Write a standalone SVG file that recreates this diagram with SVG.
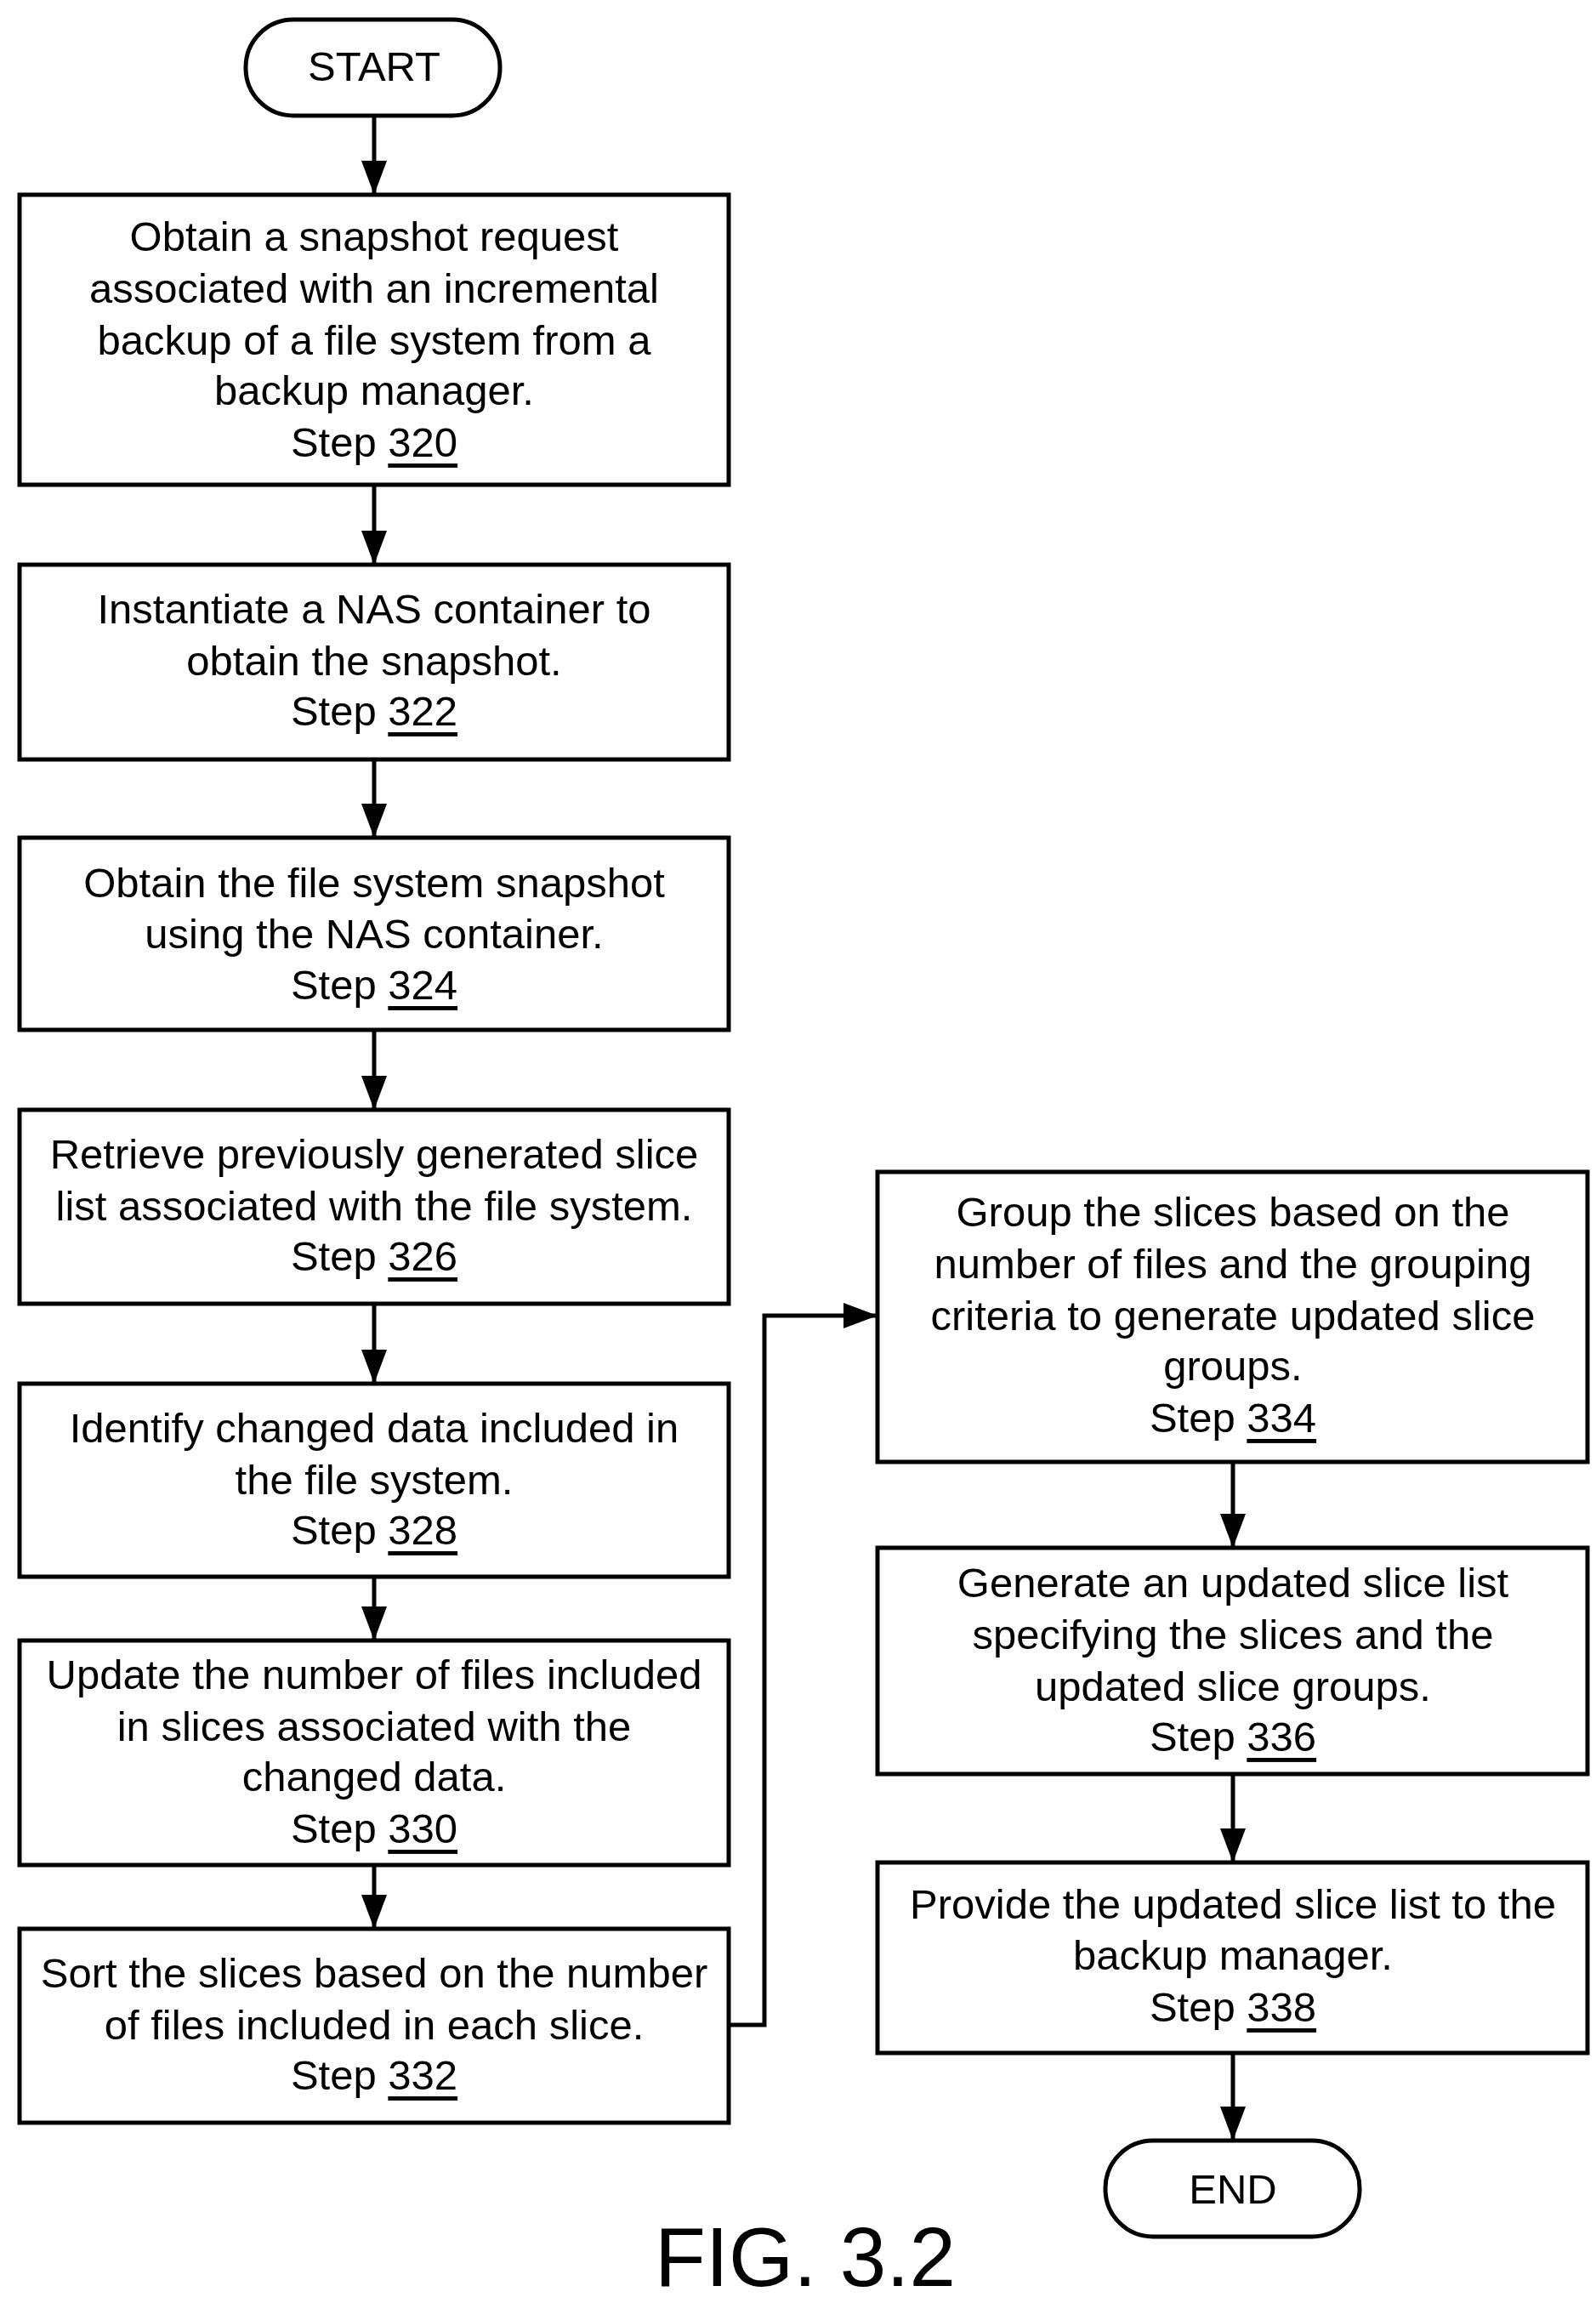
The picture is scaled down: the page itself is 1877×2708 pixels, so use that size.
<svg xmlns="http://www.w3.org/2000/svg" width="1877" height="2708" viewBox="0 0 1877 2708">
<style>
.b{fill:#fff;stroke:#000;stroke-width:5}
.t{font-family:"Liberation Sans",Arial,sans-serif;font-size:49px;text-anchor:middle;dominant-baseline:central;fill:#000}
.u{text-decoration:underline}
.c{fill:none;stroke:#000;stroke-width:5}
</style>
<defs>
<marker id="ah" viewBox="0 0 10 10" refX="10" refY="5" markerWidth="40" markerHeight="30" markerUnits="userSpaceOnUse" orient="auto" preserveAspectRatio="none"><path d="M0,0L10,5L0,10z"/></marker></defs>
<rect width="1877" height="2708" fill="#fff"/>
<g id="start"><rect class="b" x="289" y="23" width="299" height="113" rx="56"/><text class="t" x="440" y="78">START</text></g>
<g id="s320"><rect class="b" x="23" y="229" width="834" height="341"/><text class="t" x="440" y="278">Obtain a snapshot request</text><text class="t" x="440" y="339">associated with an incremental</text><text class="t" x="440" y="400">backup of a file system from a</text><text class="t" x="440" y="459">backup manager.</text><text class="t" x="440" y="520">Step <tspan class="u">320</tspan></text></g>
<g id="s322"><rect class="b" x="23" y="664" width="834" height="229"/><text class="t" x="440" y="716">Instantiate a NAS container to</text><text class="t" x="440" y="777">obtain the snapshot.</text><text class="t" x="440" y="836">Step <tspan class="u">322</tspan></text></g>
<g id="s324"><rect class="b" x="23" y="985" width="834" height="226"/><text class="t" x="440" y="1038">Obtain the file system snapshot</text><text class="t" x="440" y="1098">using the NAS container.</text><text class="t" x="440" y="1158">Step <tspan class="u">324</tspan></text></g>
<g id="s326"><rect class="b" x="23" y="1305" width="834" height="228"/><text class="t" x="440" y="1357">Retrieve previously generated slice</text><text class="t" x="440" y="1418">list associated with the file system.</text><text class="t" x="440" y="1477">Step <tspan class="u">326</tspan></text></g>
<g id="s328"><rect class="b" x="23" y="1627" width="834" height="227"/><text class="t" x="440" y="1679">Identify changed data included in</text><text class="t" x="440" y="1740">the file system.</text><text class="t" x="440" y="1799">Step <tspan class="u">328</tspan></text></g>
<g id="s330"><rect class="b" x="23" y="1929" width="834" height="264"/><text class="t" x="440" y="1969">Update the number of files included</text><text class="t" x="440" y="2030">in slices associated with the</text><text class="t" x="440" y="2089">changed data.</text><text class="t" x="440" y="2150">Step <tspan class="u">330</tspan></text></g>
<g id="s332"><rect class="b" x="23" y="2268" width="834" height="228"/><text class="t" x="440" y="2320">Sort the slices based on the number</text><text class="t" x="440" y="2381">of files included in each slice.</text><text class="t" x="440" y="2440">Step <tspan class="u">332</tspan></text></g>
<g id="s334"><rect class="b" x="1032" y="1378" width="835" height="341"/><text class="t" x="1450" y="1425">Group the slices based on the</text><text class="t" x="1450" y="1486">number of files and the grouping</text><text class="t" x="1450" y="1547">criteria to generate updated slice</text><text class="t" x="1450" y="1606">groups.</text><text class="t" x="1450" y="1667">Step <tspan class="u">334</tspan></text></g>
<g id="s336"><rect class="b" x="1032" y="1820" width="835" height="266"/><text class="t" x="1450" y="1861">Generate an updated slice list</text><text class="t" x="1450" y="1922">specifying the slices and the</text><text class="t" x="1450" y="1983">updated slice groups.</text><text class="t" x="1450" y="2042">Step <tspan class="u">336</tspan></text></g>
<g id="s338"><rect class="b" x="1032" y="2190" width="835" height="224"/><text class="t" x="1450" y="2239">Provide the updated slice list to the</text><text class="t" x="1450" y="2299">backup manager.</text><text class="t" x="1450" y="2360">Step <tspan class="u">338</tspan></text></g>
<g id="end"><rect class="b" x="1300" y="2517" width="299" height="113" rx="56"/><text class="t" x="1450" y="2574">END</text></g>
<g id="connectors">
<path class="c" marker-end="url(#ah)" d="M440,136V229"/>
<path class="c" marker-end="url(#ah)" d="M440,570V664"/>
<path class="c" marker-end="url(#ah)" d="M440,893V985"/>
<path class="c" marker-end="url(#ah)" d="M440,1211V1305"/>
<path class="c" marker-end="url(#ah)" d="M440,1533V1627"/>
<path class="c" marker-end="url(#ah)" d="M440,1854V1929"/>
<path class="c" marker-end="url(#ah)" d="M440,2193V2268"/>
<path class="c" marker-end="url(#ah)" d="M857,2381H899V1547H1032"/>
<path class="c" marker-end="url(#ah)" d="M1450,1719V1820"/>
<path class="c" marker-end="url(#ah)" d="M1450,2086V2190"/>
<path class="c" marker-end="url(#ah)" d="M1450,2414V2517"/>
</g>
<text x="947" y="2688" font-family="Liberation Sans,Arial,sans-serif" font-size="98" text-anchor="middle">FIG. 3.2</text>
</svg>
